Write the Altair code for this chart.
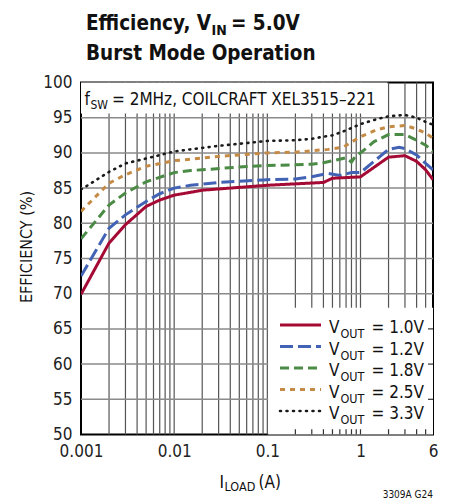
import altair as alt
import pandas as pd

FONT = "'Liberation Sans Narrow', 'DejaVu Sans Condensed', 'Roboto Condensed', Roboto, sans-serif"

# ---------------- data ----------------
series = ["1.0V", "1.2V", "1.8V", "2.5V", "3.3V"]

i_10 = [0.001, 0.002, 0.003, 0.005, 0.007, 0.01, 0.015, 0.02, 0.05, 0.1, 0.2, 0.4, 0.5, 1.0, 2.0, 3.0, 4.0, 5.0, 6.0]
e_10 = [69.9, 77.2, 79.8, 82.4, 83.3, 84.0, 84.4, 84.7, 85.1, 85.4, 85.6, 85.8, 86.4, 86.6, 89.4, 89.6, 88.8, 87.6, 86.2]

i_12 = [0.001, 0.002, 0.003, 0.005, 0.007, 0.01, 0.015, 0.03, 0.1, 0.2, 0.3, 0.45, 0.6, 0.8, 1.0, 2.0, 2.6, 3.0, 4.0, 5.0, 6.0]
e_12 = [72.5, 79.3, 81.2, 83.1, 84.2, 85.0, 85.4, 85.8, 86.2, 86.3, 86.6, 87.1, 86.8, 87.2, 87.2, 90.5, 90.8, 90.6, 89.7, 88.5, 87.6]

i_18 = [0.001, 0.002, 0.003, 0.005, 0.01, 0.015, 0.02, 0.05, 0.1, 0.2, 0.3, 0.4, 0.55, 0.7, 0.8, 0.9, 1.0, 1.4, 2.0, 3.0, 4.0, 5.0, 6.0]
e_18 = [77.8, 82.6, 84.3, 85.9, 87.2, 87.5, 87.6, 88.0, 88.2, 88.3, 88.4, 88.6, 89.0, 89.3, 88.7, 89.7, 90.0, 91.6, 92.6, 92.6, 91.8, 91.1, 90.2]

i_25 = [0.001, 0.002, 0.003, 0.005, 0.01, 0.015, 0.03, 0.1, 0.2, 0.3, 0.45, 0.65, 1.0, 1.5, 2.0, 3.0, 4.0, 5.0, 6.0]
e_25 = [81.7, 85.7, 86.9, 88.1, 88.9, 89.1, 89.5, 90.0, 90.1, 90.3, 90.5, 90.8, 92.3, 93.3, 93.7, 93.9, 93.4, 92.8, 92.1]

i_33 = [0.001, 0.002, 0.003, 0.005, 0.01, 0.015, 0.03, 0.1, 0.2, 0.3, 0.4, 0.5, 0.7, 1.0, 1.5, 2.0, 3.0, 4.0, 5.0, 6.0]
e_33 = [84.8, 87.3, 88.5, 89.2, 90.2, 90.5, 91.0, 91.7, 91.8, 92.0, 92.3, 92.5, 93.2, 94.1, 94.8, 95.2, 95.4, 95.0, 94.4, 94.0]

x_ticks = [0.001, 0.01, 0.1, 1, 6]
y_ticks = [50, 55, 60, 65, 70, 75, 80, 85, 90, 95, 100]
v_grid = [0.002, 0.003, 0.004, 0.005, 0.006, 0.007, 0.008, 0.009,
          0.01, 0.02, 0.03, 0.04, 0.05, 0.06, 0.07, 0.08, 0.09,
          0.1, 0.2, 0.3, 0.4, 0.5, 0.6, 0.7, 0.8, 0.9,
          1, 2, 3, 4, 5]
h_grid = [55, 60, 65, 70, 75, 80, 85, 90, 95]
bottom_ticks = [0.2, 0.3, 0.4, 0.5, 0.6, 0.7, 0.8, 0.9, 1, 2, 3, 4, 5]
right_ticks = [55, 60, 65]

colors = ["#a50a35", "#4263b5", "#4b8b46", "#c58a45", "#1a1a1a"]
dashes = [[1, 0], [13, 5], [9, 5], [5, 5], [1, 5.5]]
widths = [3, 3, 3, 3, 2.6]
caps = ["butt", "butt", "butt", "butt", "round"]

# ---------------- scales / axes ----------------
W, H = 352, 352
OX, OY = 81, 82.5  # page position of plot origin

xscale = alt.Scale(type="log", domain=[0.001, 6], nice=False)
yscale = alt.Scale(domain=[50, 100], nice=False, zero=False)
xaxis = alt.Axis(values=x_ticks, format="~g", title=None, grid=False, ticks=False,
                 domain=False, labelFont=FONT, labelFontSize=17, labelColor="#222",
                 labelPadding=9, labelFlush=False)
yaxis = alt.Axis(values=y_ticks, title=None, grid=False, ticks=False, domain=False,
                 labelFont=FONT, labelFontSize=17, labelColor="#222", labelPadding=9)


def X(f):
    return alt.X(f, scale=xscale, axis=xaxis)


def Y(f):
    return alt.Y(f, scale=yscale, axis=yaxis)


layers = []

# grid
layers.append(alt.Chart(pd.DataFrame({"g": v_grid})).mark_rule(color="#555", strokeWidth=1.2)
              .encode(x=X("g:Q")))
layers.append(alt.Chart(pd.DataFrame({"h": h_grid})).mark_rule(color="#8a8a8a", strokeWidth=1.5)
              .encode(y=Y("h:Q")))

# white boxes (annotation + legend)
boxes = pd.DataFrame({"x1": [0.001, 0.102], "x2": [1.95, 6], "y1": [95.6, 50], "y2": [100, 68]})
layers.append(alt.Chart(boxes).mark_rect(color="white")
              .encode(x=X("x1:Q"), x2="x2:Q", y=Y("y1:Q"), y2="y2:Q"))

# inward ticks visible in the legend area
bt = pd.DataFrame({"bx": bottom_ticks, "b1": [50] * len(bottom_ticks), "b2": [50.75] * len(bottom_ticks)})
layers.append(alt.Chart(bt).mark_rule(color="#333", strokeWidth=1.2)
              .encode(x=X("bx:Q"), y=Y("b1:Q"), y2="b2:Q"))
rt = pd.DataFrame({"ry": right_ticks, "r1": [5.3] * len(right_ticks), "r2": [6] * len(right_ticks)})
layers.append(alt.Chart(rt).mark_rule(color="#333", strokeWidth=1.2)
              .encode(y=Y("ry:Q"), x=X("r1:Q"), x2="r2:Q"))

# curves
curve_data = [(i_33, e_33), (i_25, e_25), (i_18, e_18), (i_12, e_12), (i_10, e_10)]
idx = [4, 3, 2, 1, 0]
for k, (xs, ys) in zip(idx, curve_data):
    d = pd.DataFrame({"I": xs, "eff": ys, "n": list(range(len(xs)))})
    layers.append(alt.Chart(d).mark_line(color=colors[k], strokeDash=dashes[k], strokeWidth=widths[k],
                                         strokeCap=caps[k], clip=True)
                  .encode(x=X("I:Q"), y=Y("eff:Q"), order="n:Q"))

# legend samples
leg_y = [325, 346.5, 368, 389.5, 411]
for k in range(5):
    layers.append(alt.Chart(pd.DataFrame({"s": [series[k]]})).mark_rule(
        color=colors[k], strokeDash=dashes[k], strokeWidth=widths[k], strokeCap=caps[k])
        .encode(x=alt.value(280 - OX), x2=alt.value(321 - OX), y=alt.value(leg_y[k] - OY)))


def txt(s, px, py, size, bold=False, align="left", baseline="alphabetic", angle=0, color="#111"):
    kw = dict(font=FONT, fontSize=size, align=align, baseline=baseline, color=color,
              fontWeight="bold" if bold else "normal")
    if angle:
        kw["angle"] = angle
    return (alt.Chart(pd.DataFrame({"t": [s]})).mark_text(**kw)
            .encode(x=alt.value(px - OX), y=alt.value(py - OY), text="t:N"))


# legend labels
for k in range(5):
    by = leg_y[k] + 8
    layers.append(txt("V", 339.5, by, 17, align="right"))
    layers.append(txt("OUT", 340.5, by + 5, 12.5))
    layers.append(txt("= " + series[k], 371.5, by, 17))

# title
layers.append(txt("Efficiency, V", 86, 30, 20.5, bold=True))
layers.append(txt("IN", 211.5, 35, 14, bold=True))
layers.append(txt("= 5.0V", 231, 30, 20.5, bold=True))
layers.append(txt("Burst Mode Operation", 86, 60, 20.5, bold=True))

# annotation
layers.append(txt("f", 90, 105, 17, align="right"))
layers.append(txt("SW", 90.5, 108.5, 12))
layers.append(txt("= 2MHz, COILCRAFT XEL3515\u2013221", 112, 105, 17))

# axis titles
layers.append(txt("I", 224, 488, 17, align="right"))
layers.append(txt("LOAD", 224.5, 491, 12.5))
layers.append(txt("(A)", 258.5, 488, 17))
layers.append(txt("EFFICIENCY (%)", 27, 247, 16, align="center", baseline="middle", angle=270))

# footnote
layers.append(txt("3309A G24", 433, 498, 10, align="right"))

chart = alt.layer(*layers).properties(
    width=W, height=H,
    autosize=alt.AutoSizeParams(type="none"),
    padding={"left": OX - 8, "top": OY - 8, "right": 9, "bottom": 66},
).configure_view(stroke="#000", strokeWidth=2)

chart.save("out.html", embed_options={"renderer": "svg", "actions": False})
